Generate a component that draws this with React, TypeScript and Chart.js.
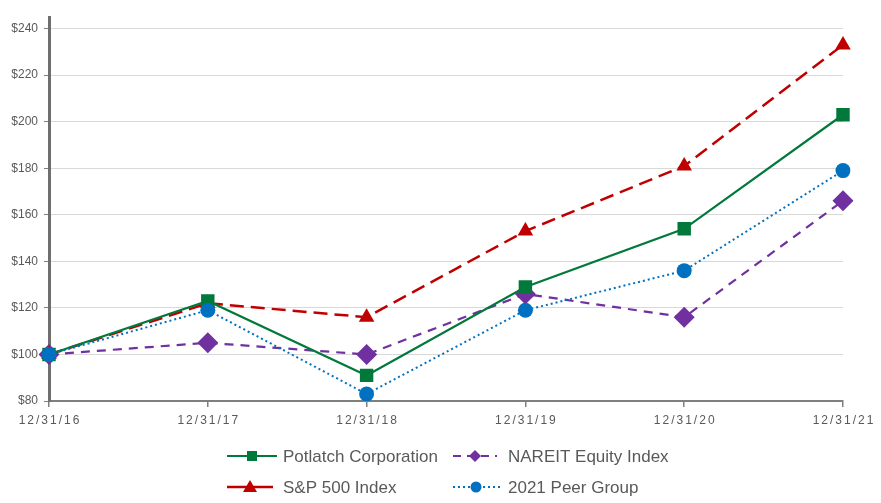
import React, { useEffect, useRef } from "react";
import { Chart, registerables } from "chart.js";

Chart.register(...registerables);

const categories = ["12/31/16", "12/31/17", "12/31/18", "12/31/19", "12/31/20", "12/31/21"];
const potlatch = [100, 123, 91, 129, 154, 203];
const nareit = [100, 105, 100, 126, 116, 166];
const sp500 = [100, 122, 116, 153, 181, 233];
const peer = [100, 119, 83, 119, 136, 179];
const yTickValues = [80, 100, 120, 140, 160, 180, 200, 220, 240];

const GREEN = "#00793B";
const RED = "#C00000";
const PURPLE = "#7030A0";
const BLUE = "#0070C0";
const TEXT = "#595959";
const FONT = "Arial, 'Liberation Sans', sans-serif";

function drawMarker(ctx: CanvasRenderingContext2D, kind: string, x: number, y: number, color: string) {
  ctx.save();
  ctx.fillStyle = color;
  ctx.setLineDash([]);
  ctx.beginPath();
  if (kind === "rect") {
    ctx.rect(x - 5, y - 5, 10, 10);
  } else if (kind === "diamond") {
    ctx.moveTo(x, y - 6);
    ctx.lineTo(x + 6, y);
    ctx.lineTo(x, y + 6);
    ctx.lineTo(x - 6, y);
    ctx.closePath();
  } else if (kind === "triangle") {
    ctx.moveTo(x, y - 7);
    ctx.lineTo(x + 7, y + 5);
    ctx.lineTo(x - 7, y + 5);
    ctx.closePath();
  } else {
    ctx.arc(x, y, 5.5, 0, Math.PI * 2);
  }
  ctx.fill();
  ctx.restore();
}

const customPlugin = {
  id: "customDecor",
  afterDraw(chart: any) {
    const ctx: CanvasRenderingContext2D = chart.ctx;
    const xScale = chart.scales.x;
    const area = chart.chartArea;
    ctx.save();
    ctx.font = `12px ${FONT}`;
    ctx.fillStyle = TEXT;
    ctx.textAlign = "center";
    ctx.textBaseline = "middle";
    (ctx as any).letterSpacing = "2px";
    categories.forEach((c, i) => {
      ctx.fillText(c, xScale.getPixelForValue(i) + 1, area.bottom + 20);
    });
    ctx.restore();

    const items = [
      { label: "Potlatch Corporation", color: GREEN, dash: [], kind: "rect", x1: 227, x2: 277, mx: 252, tx: 283, y: 456, w: 2 },
      { label: "NAREIT Equity Index", color: PURPLE, dash: [8, 6], kind: "diamond", x1: 453, x2: 497, mx: 475, tx: 508, y: 456, w: 2 },
      { label: "S&P 500 Index", color: RED, dash: [], kind: "triangle", x1: 227, x2: 273, mx: 250, tx: 283, y: 487, w: 2.5 },
      { label: "2021 Peer Group", color: BLUE, dash: [2, 3], kind: "circle", x1: 453, x2: 500, mx: 476, tx: 508, y: 487, w: 2 },
    ];
    ctx.save();
    items.forEach((it) => {
      ctx.strokeStyle = it.color;
      ctx.lineWidth = it.w;
      ctx.setLineDash(it.dash);
      ctx.beginPath();
      ctx.moveTo(it.x1, it.y);
      ctx.lineTo(it.x2, it.y);
      ctx.stroke();
      drawMarker(ctx, it.kind, it.mx, it.y, it.color);
      ctx.setLineDash([]);
      ctx.font = `17px ${FONT}`;
      ctx.fillStyle = TEXT;
      ctx.textAlign = "left";
      ctx.textBaseline = "middle";
      ctx.fillText(it.label, it.tx, it.y + 1);
    });
    ctx.restore();
  },
};

export default function App() {
  const ref = useRef<HTMLCanvasElement | null>(null);

  useEffect(() => {
    if (!ref.current) return;
    const chart = new Chart(ref.current, {
      type: "line",
      data: {
        labels: categories,
        datasets: [
          {
            label: "2021 Peer Group",
            data: peer,
            borderColor: BLUE,
            backgroundColor: BLUE,
            borderWidth: 2,
            borderDash: [2, 3],
            pointStyle: "circle",
            pointRadius: 7.5,
            pointBorderWidth: 0,
            order: 0,
          },
          {
            label: "Potlatch Corporation",
            data: potlatch,
            borderColor: GREEN,
            backgroundColor: GREEN,
            borderWidth: 2.2,
            pointStyle: "rect",
            pointRadius: 9.5,
            pointBorderWidth: 0,
            order: 1,
          },
          {
            label: "S&P 500 Index",
            data: sp500,
            borderColor: RED,
            backgroundColor: RED,
            borderWidth: 2.5,
            borderDash: [14, 7],
            pointStyle: "triangle",
            pointRadius: 9,
            pointBorderWidth: 0,
            order: 2,
          },
          {
            label: "NAREIT Equity Index",
            data: nareit,
            borderColor: PURPLE,
            backgroundColor: PURPLE,
            borderWidth: 2.2,
            borderDash: [9, 7],
            pointStyle: "rectRot",
            pointRadius: 10.5,
            pointBorderWidth: 0,
            order: 3,
          },
        ],
      },
      options: {
        animation: false,
        responsive: true,
        maintainAspectRatio: false,
        layout: { padding: { top: 17, right: 38, left: 0, bottom: 0 } },
        plugins: { legend: { display: false }, tooltip: { enabled: false } },
        elements: { line: { tension: 0 } },
        scales: {
          x: {
            type: "category",
            offset: false,
            ticks: { display: false },
            grid: { drawOnChartArea: false, drawTicks: true, tickLength: 6, color: "#7f7f7f", lineWidth: 1.5 },
            border: { display: true, color: "#7f7f7f", width: 2 },
            afterFit: (s: any) => {
              s.height = 102;
            },
          },
          y: {
            min: 80,
            max: 245,
            afterBuildTicks: (s: any) => {
              s.ticks = yTickValues.map((v) => ({ value: v }));
            },
            ticks: {
              color: TEXT,
              font: { size: 12, family: FONT },
              padding: 6,
              callback: (v: any) => "$" + v,
            },
            grid: { color: "#d9d9d9", lineWidth: 1, drawTicks: true, tickLength: 5, tickColor: "#7f7f7f" },
            border: { display: true, color: "#6f6f6f", width: 3 },
            afterFit: (s: any) => {
              s.width = 49;
            },
          },
        },
      },
      plugins: [customPlugin],
    } as any);
    return () => chart.destroy();
  }, []);

  return (
    <div style={{ position: "fixed", left: 0, top: 0, width: 881, height: 503, background: "#fff" }}>
      <canvas ref={ref} />
    </div>
  );
}
